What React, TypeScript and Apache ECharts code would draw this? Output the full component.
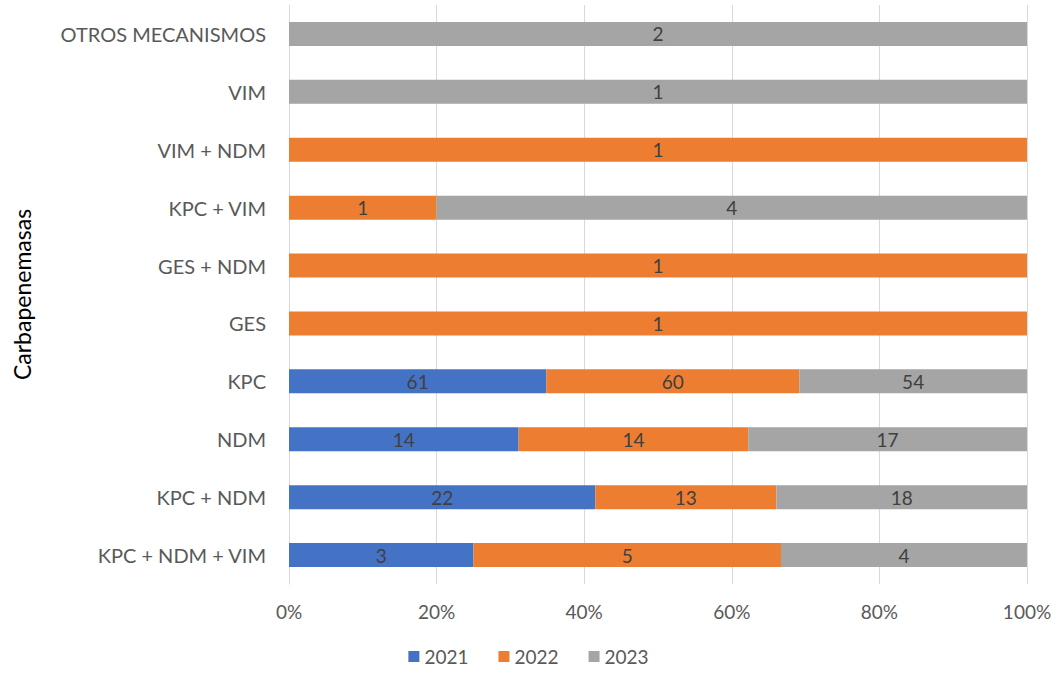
import React, { useEffect, useRef } from "react";
import * as echarts from "echarts";

const categories = [
  "KPC + NDM + VIM",
  "KPC + NDM",
  "NDM",
  "KPC",
  "GES",
  "GES + NDM",
  "KPC + VIM",
  "VIM + NDM",
  "VIM",
  "OTROS MECANISMOS",
];
const seriesNames = ["2021", "2022", "2023"];
const values2021 = [3, 22, 14, 61, 0, 0, 0, 0, 0, 0];
const values2022 = [5, 13, 14, 60, 1, 1, 1, 1, 0, 0];
const values2023 = [4, 18, 17, 54, 0, 0, 4, 0, 1, 2];
const colors = ["#4472C4", "#ED7D31", "#A5A5A5"];
const FONT = "Lato, 'Open Sans', sans-serif";

export default function App() {
  const ref = useRef<HTMLDivElement>(null);
  useEffect(() => {
    if (!ref.current) return;
    const chart = echarts.init(ref.current, undefined, { renderer: "svg" });
    const all = [values2021, values2022, values2023];
    const totals = categories.map((_, i) => all.reduce((s, a) => s + a[i], 0));
    const series = all.map((vals, si) => ({
      name: seriesNames[si],
      type: "bar",
      stack: "total",
      barWidth: 24,
      itemStyle: { color: colors[si] },
      label: {
        show: true,
        position: "inside",
        color: "#404040",
        fontSize: 19,
        fontFamily: FONT,
        formatter: (p: any) => (p.data.raw > 0 ? String(p.data.raw) : ""),
      },
      data: vals.map((v, i) => ({ value: totals[i] ? (v / totals[i]) * 100 : 0, raw: v })),
    }));
    chart.setOption({
      animation: false,
      textStyle: { fontFamily: FONT },
      grid: { left: 289, right: 30, top: 5, bottom: 108, containLabel: false },
      legend: {
        top: 642,
        left: "center",
        itemWidth: 11,
        itemHeight: 11,
        itemGap: 30,
        icon: "rect",
        textStyle: { color: "#595959", fontSize: 19, fontFamily: FONT },
        data: seriesNames,
      },
      xAxis: {
        type: "value",
        min: 0,
        max: 100,
        interval: 20,
        axisLabel: {
          formatter: "{value}%",
          color: "#595959",
          fontSize: 19,
          margin: 18,
          fontFamily: FONT,
        },
        axisLine: { show: false },
        axisTick: { show: false },
        splitLine: { show: true, lineStyle: { color: "#D9D9D9", width: 1 } },
      },
      yAxis: {
        type: "category",
        data: categories,
        name: "Carbapenemasas",
        nameLocation: "middle",
        nameGap: 256,
        nameRotate: 90,
        nameTextStyle: { color: "#000000", fontSize: 23, fontFamily: FONT },
        axisLabel: { color: "#595959", fontSize: 20, margin: 23, fontFamily: FONT },
        axisLine: { show: true, lineStyle: { color: "#D9D9D9" } },
        axisTick: { show: false },
      },
      series,
    });
    return () => chart.dispose();
  }, []);
  return (
    <div
      ref={ref}
      style={{ position: "absolute", left: 0, top: 0, width: 1057, height: 692 }}
    />
  );
}
